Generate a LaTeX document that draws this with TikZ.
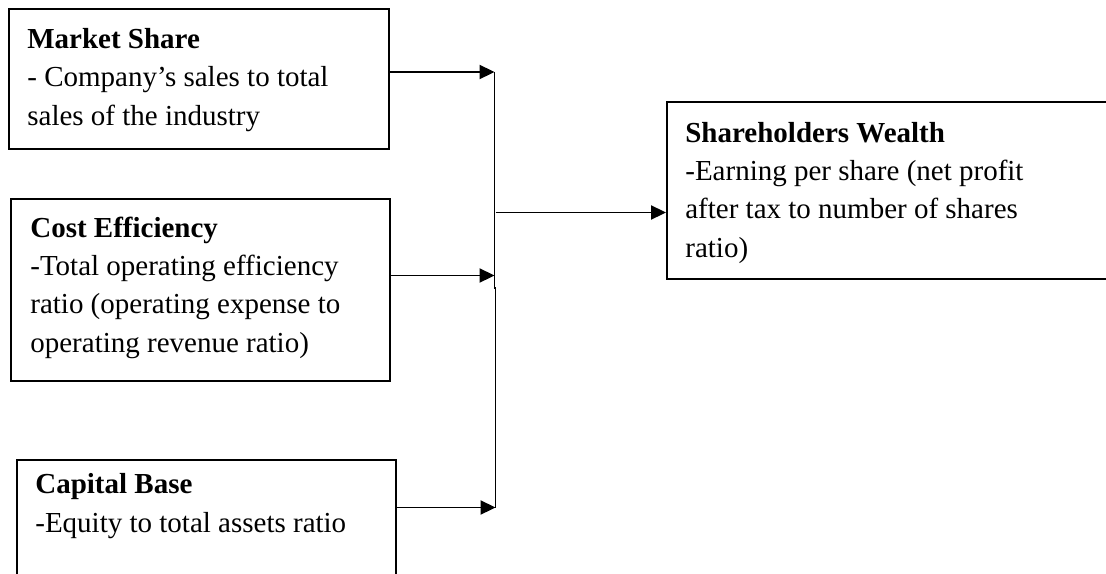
\documentclass[tikz,border=0pt]{standalone}
\usepackage{fontspec}
\setmainfont{Liberation Serif}
\usetikzlibrary{arrows.meta}
\tikzset{
    box/.style={draw,line width=1pt,rectangle,anchor=north west,inner sep=0pt},
    boxtext/.style={align=left,anchor=base west,inner sep=0pt,font=\fontsize{16.5}{21.7}\selectfont},
    link/.style={line width=1pt,-{Triangle[length=8.5pt,width=8pt]}}
}
\begin{document}
\begin{tikzpicture}
        % Draw page area
        \clip (0,0) rectangle (22.12,-11.46);
        % Draw boxes
        \node[box,minimum width=7.6cm,minimum height=2.8cm] (market) at (0.16,-0.16) {};
        \node[box,minimum width=7.58cm,minimum height=3.64cm] (cost) at (0.2,-3.96) {};
        \node[box,minimum width=7.58cm,minimum height=2.6cm] (capital) at (0.32,-9.18) {};
        \node[box,minimum width=9.2cm,minimum height=3.54cm] (wealth) at (13.32,-2.02) {};
        % Draw text (anchored at the baseline of the last line)
        \node[boxtext] (marketText) at (0.54,-2.5) {
            \textbf{Market Share}\\
            - Company’s sales to total\\
            sales of the industry};
        \node[boxtext] (costText) at (0.6,-7.04) {
            \textbf{Cost Efficiency}\\
            -Total operating efficiency\\
            ratio (operating expense to\\
            operating revenue ratio)};
        \node[boxtext] (capitalText) at (0.7,-10.64) {
            \textbf{Capital Base}\\
            -Equity to total assets ratio};
        \node[boxtext] (wealthText) at (13.7,-5.14) {
            \textbf{Shareholders Wealth}\\
            -Earning per share (net profit\\
            after tax to number of shares\\
            ratio)};
        % Draw vertical line
        \coordinate (busA) at (9.89,-1.44);
        \coordinate (busB) at (9.89,-5.51);
        \coordinate (busC) at (9.91,-10.15);
        \coordinate (busM) at (9.91,-4.25);
        \draw[line width=1pt] (busA) -- (9.89,-5.76) -- (9.91,-5.76) -- (busC);
        % Draw arrows
        \draw[link] (market.east |- busA) -- (busA);
        \draw[link] (cost.east |- busB) -- (busB);
        \draw[link] (capital.east |- busC) -- (busC);
        \draw[link] (busM) -- (wealth.west |- busM);
    \end{tikzpicture}
\end{document}
